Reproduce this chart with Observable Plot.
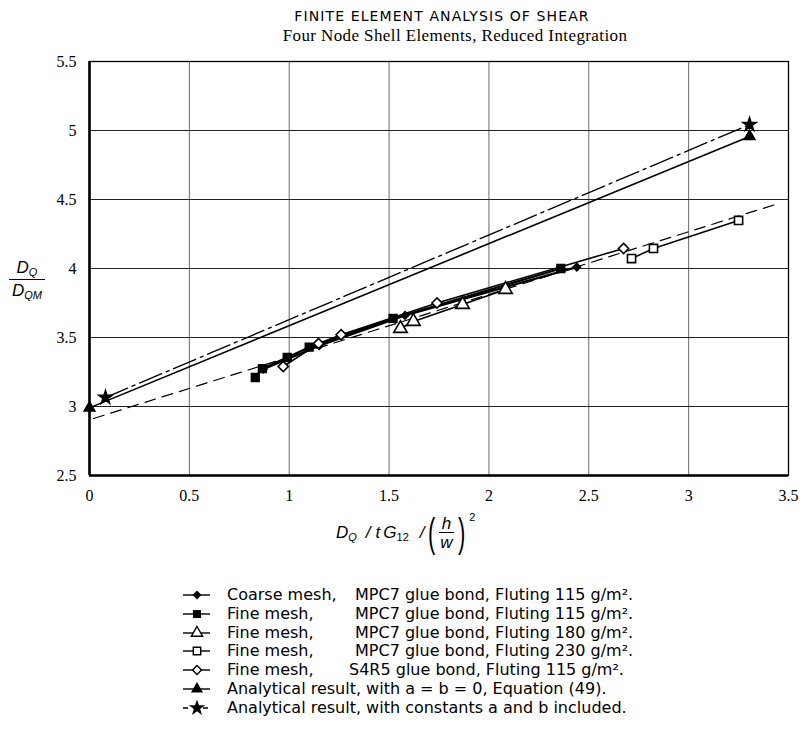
<!DOCTYPE html>
<html><head><meta charset="utf-8">
<script src="https://cdn.jsdelivr.net/npm/d3@7"></script>
<script src="https://cdn.jsdelivr.net/npm/@observablehq/plot@0.6"></script>
<style>
body{margin:0;background:#fff;}
#wrap{position:relative;width:803px;height:739px;overflow:hidden;color:#000;background:#fff;}
#chart{position:absolute;left:0;top:0;}
.t1{position:absolute;left:0;width:884px;top:7px;text-align:center;font:14px "DejaVu Sans",sans-serif;letter-spacing:1.1px;line-height:18px;}
.t2{position:absolute;left:0;width:910px;top:26px;text-align:center;font:17px "Liberation Serif",serif;letter-spacing:0.4px;line-height:20px;}
.yl{position:absolute;left:9px;top:257px;width:36px;text-align:center;font:italic 17px "Liberation Sans",Arial,sans-serif;line-height:21px;}
.yl .bar{border-top:1.5px solid #000;margin:1px 0 0 0;}
sub{font-size:11px;vertical-align:-3px;line-height:0;}
.xl{position:absolute;left:336px;top:510px;height:46px;display:flex;align-items:center;font:italic 17px "Liberation Sans",Arial,sans-serif;white-space:nowrap;}
.paren{font-style:normal;font-size:40px;font-weight:normal;display:inline-block;transform:scaleX(0.55);line-height:40px;}
.frac{display:inline-flex;flex-direction:column;align-items:center;line-height:15px;margin:0 1px;}
.frac .fbar{border-top:1.3px solid #000;width:15px;margin:1px 0 2px 0;}
.sup2{font-style:normal;font-size:11px;align-self:flex-start;margin-top:1px;margin-left:1px;}
.leg{position:absolute;font:16px "DejaVu Sans",sans-serif;white-space:nowrap;line-height:18px;}
</style></head>
<body><div id="wrap">
<div class="t1">FINITE ELEMENT ANALYSIS OF SHEAR</div>
<div class="t2">Four Node Shell Elements, Reduced Integration</div>
<div id="chart"></div>
<div class="yl"><div>D<sub>Q</sub></div><div class="bar"></div><div>D<sub>QM</sub></div></div>
<div class="xl"><span>D<sub>Q</sub></span><span style="margin-left:9px">/</span><span style="margin-left:5px">t</span><span style="margin-left:3px">G<sub style="font-style:normal">12</sub></span><span style="margin-left:11px">/</span><span class="paren">(</span><span class="frac"><span>h</span><span class="fbar"></span><span>w</span></span><span class="paren">)</span><span class="sup2">2</span></div>
<div id="legend"></div>
</div>
<script>
// ---- data ----
const xTicks = [0, 0.5, 1, 1.5, 2, 2.5, 3, 3.5];
const yTicks = [2.5, 3, 3.5, 4, 4.5, 5, 5.5];

const coarseX = [0.87, 1.15, 1.58, 2.44];
const coarseY = [3.27, 3.44, 3.66, 4.01];
const fine115X = [0.83, 0.866, 0.99, 1.10, 1.52, 2.36];
const fine115Y = [3.21, 3.275, 3.355, 3.43, 3.638, 4.0];
const fine180X = [1.557, 1.622, 1.868, 2.083];
const fine180Y = [3.565, 3.616, 3.739, 3.848];
const fine230X = [2.714, 2.824, 3.25];
const fine230Y = [4.072, 4.145, 4.348];
const s4r5X = [0.97, 1.147, 1.26, 1.74, 2.674];
const s4r5Y = [3.29, 3.456, 3.52, 3.75, 4.145];
const anaX = [0, 3.305];
const anaY = [2.99, 4.957];
const anaABX = [0.08, 3.305];
const anaABY = [3.065, 5.043];
const fitX = [0.02, 3.435];
const fitY = [2.913, 4.464];

const legendLabels = [
  ["Coarse mesh,", "MPC7 glue bond, Fluting 115 g/m²."],
  ["Fine mesh,", "MPC7 glue bond, Fluting 115 g/m²."],
  ["Fine mesh,", "MPC7 glue bond, Fluting 180 g/m²."],
  ["Fine mesh,", "MPC7 glue bond, Fluting 230 g/m²."],
  ["Fine mesh,", "S4R5 glue bond, Fluting 115 g/m²."],
  ["Analytical result, with a = b = 0, Equation (49).", ""],
  ["Analytical result, with constants a and b included.", ""]
];

const zip = (xs, ys) => xs.map((x, i) => ({x, y: ys[i]}));
const coarse = zip(coarseX, coarseY);
const fine115 = zip(fine115X, fine115Y);
const fine180 = zip(fine180X, fine180Y);
const fine230 = zip(fine230X, fine230Y);
const s4r5 = zip(s4r5X, s4r5Y);
const ana = zip(anaX, anaY);
const anaAB = zip(anaABX, anaABY);
const fit = zip(fitX, fitY);

const lw = 1.6;
const plot = Plot.plot({
  width: 803,
  height: 512,
  marginTop: 61,
  marginLeft: 89,
  marginRight: 15,
  marginBottom: 37,
  style: {fontFamily: "Liberation Serif, serif", fontSize: "16px", color: "#000", background: "transparent", overflow: "visible"},
  x: {domain: [0, 3.5], ticks: xTicks, tickSize: 0, tickPadding: 14, tickFormat: d => String(d), label: null},
  y: {domain: [2.5, 5.5], ticks: yTicks, tickSize: 0, tickPadding: 13, tickFormat: d => String(d), label: null},
  marks: [
    Plot.gridX(xTicks, {stroke: "#6a6a6a", strokeOpacity: 1, strokeWidth: 1}),
    Plot.gridY(yTicks, {stroke: "#222", strokeOpacity: 1, strokeWidth: 1}),
    Plot.frame({stroke: "#000", strokeWidth: 1.3}),
    Plot.ruleX([0], {stroke: "#000", strokeWidth: 2.6}),
    Plot.ruleY([2.5], {stroke: "#000", strokeWidth: 2.6}),
    Plot.line(fit, {x: "x", y: "y", stroke: "#000", strokeWidth: 1.2, strokeDasharray: "11,7"}),
    Plot.line(ana, {x: "x", y: "y", stroke: "#000", strokeWidth: lw}),
    Plot.line(anaAB, {x: "x", y: "y", stroke: "#000", strokeWidth: 1.4, strokeDasharray: "24,5,3,5"}),
    Plot.line(coarse, {x: "x", y: "y", stroke: "#000", strokeWidth: 2.2}),
    Plot.line(fine115, {x: "x", y: "y", stroke: "#000", strokeWidth: 2.2}),
    Plot.line(fine180, {x: "x", y: "y", stroke: "#000", strokeWidth: lw}),
    Plot.line(fine230, {x: "x", y: "y", stroke: "#000", strokeWidth: lw}),
    Plot.line(s4r5, {x: "x", y: "y", stroke: "#000", strokeWidth: lw}),
    Plot.dot(fine115, {x: "x", y: "y", symbol: "square", r: 4.4, fill: "#000", stroke: "#000"}),
    Plot.dot(coarse, {x: "x", y: "y", symbol: "diamond2", r: 3.4, fill: "#000", stroke: "#000"}),
    Plot.dot(fine180, {x: "x", y: "y", symbol: "triangle", r: 5, fill: "#fff", stroke: "#000", strokeWidth: 1.6}),
    Plot.dot(fine230, {x: "x", y: "y", symbol: "square", r: 4.6, fill: "#fff", stroke: "#000", strokeWidth: 1.6}),
    Plot.dot(s4r5, {x: "x", y: "y", symbol: "diamond2", r: 4.6, fill: "#fff", stroke: "#000", strokeWidth: 1.6}),
    Plot.dot(ana, {x: "x", y: "y", symbol: "triangle", r: 4, fill: "#000", stroke: "#000"}),
    Plot.dot(anaAB, {x: "x", y: "y", symbol: "star", r: 4.2, fill: "#000", stroke: "#000"})
  ]
});
document.getElementById("chart").appendChild(plot);

// ---- legend ----
const legendGlyphs = [
  {sym: d3.symbolDiamond2, size: 30, fill: "#000", dash: null},
  {sym: d3.symbolSquare, size: 45, fill: "#000", dash: null},
  {sym: d3.symbolTriangle, size: 55, fill: "#fff", dash: null},
  {sym: d3.symbolSquare, size: 55, fill: "#fff", dash: null},
  {sym: d3.symbolDiamond2, size: 50, fill: "#fff", dash: null},
  {sym: d3.symbolTriangle, size: 40, fill: "#000", dash: null},
  {sym: d3.symbolStar, size: 45, fill: "#000", dash: "5,5"}
];
const leg = document.getElementById("legend");
const rowY0 = 595, rowStep = 18.8;
legendLabels.forEach((lab, i) => {
  const cy = rowY0 + i * rowStep;
  const g = legendGlyphs[i];
  const svg = d3.create("svg").attr("width", 32).attr("height", 16)
    .style("position", "absolute").style("left", "181px").style("top", (cy - 8) + "px");
  svg.append("line").attr("x1", 2).attr("x2", 29).attr("y1", 8).attr("y2", 8)
    .attr("stroke", "#000").attr("stroke-width", 1.4).attr("stroke-dasharray", g.dash);
  svg.append("path").attr("d", d3.symbol(g.sym, g.size)()).attr("transform", "translate(16,8)")
    .attr("fill", g.fill).attr("stroke", "#000").attr("stroke-width", 1.4);
  leg.appendChild(svg.node());
  const a = document.createElement("div");
  a.className = "leg"; a.textContent = lab[0];
  a.style.left = "227px"; a.style.top = (cy - 9) + "px";
  leg.appendChild(a);
  if (lab[1]) {
    const b = document.createElement("div");
    b.className = "leg"; b.textContent = lab[1];
    b.style.left = (lab[1].startsWith("S4R5") ? 349 : 355) + "px"; b.style.top = (cy - 9) + "px";
    leg.appendChild(b);
  }
});
</script>
</body></html>
